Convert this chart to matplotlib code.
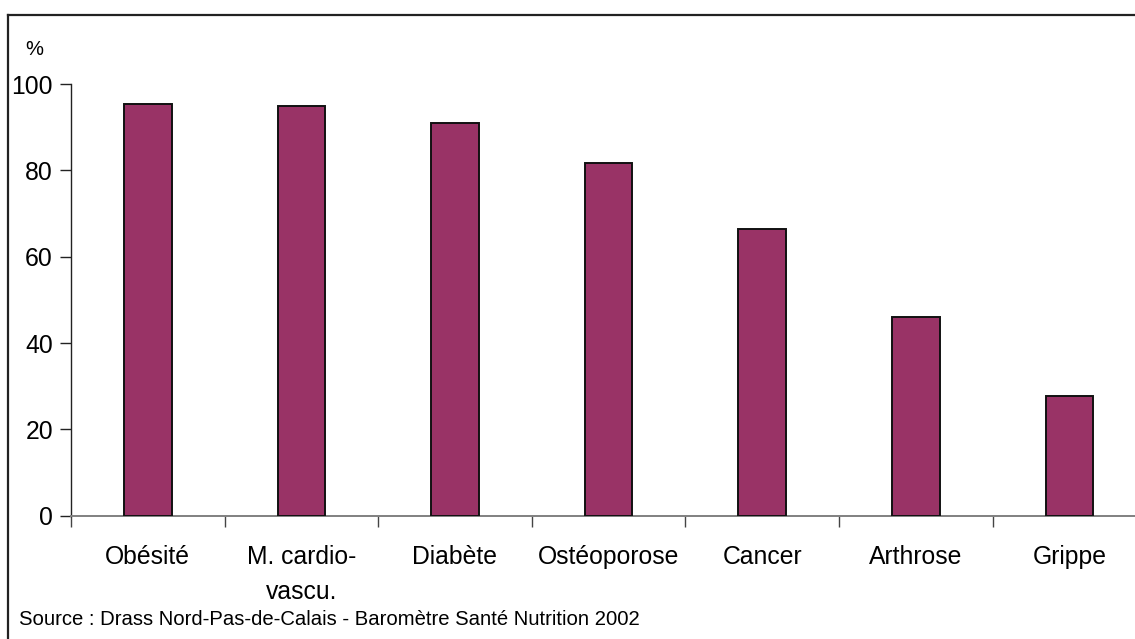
#!/usr/bin/env python

import matplotlib
matplotlib.use('Agg')
import matplotlib.pyplot as plt
import numpy as np
from matplotlib.lines import Line2D

categories = ['Obésité', 'M. cardio-\nvascu.', 'Diabète', 'Ostéoporose', 'Cancer', 'Arthrose', 'Grippe']
percentages = [95.4, 95.0, 90.9, 81.6, 66.3, 46.0, 27.7]
y_ticks = [0, 20, 40, 60, 80, 100]
source_text = 'Source : Drass Nord-Pas-de-Calais - Baromètre Santé Nutrition 2002'


def generate_bar_plot(plot_file, size=(11.35, 6.39), dpi=100):
    matplotlib.rc('font', **{'family': 'sans-serif', 'sans-serif': ['Liberation Sans', 'DejaVu Sans']})

    width_px = size[0] * dpi
    height_px = size[1] * dpi

    fig = plt.figure(figsize=size, dpi=dpi)

    # axes box in pixels: left edge, bottom (value 0) and top (value 100)
    left, right = 71, 71 + 7 * 153.6
    bottom, top = 515.7, 84
    ax = fig.add_axes([left / width_px, 1 - bottom / height_px,
                       (right - left) / width_px, (bottom - top) / height_px])

    bar_color = '#993366'
    x = np.arange(len(categories))
    ax.bar(x, percentages, width=0.31, color=bar_color, edgecolor='#111111', linewidth=1.4, zorder=3)

    ax.set_xlim(-0.5, len(categories) - 0.5)
    ax.set_ylim(0, 100)

    for spine_name in ['top', 'right']:
        ax.spines[spine_name].set_visible(False)
    ax.spines['left'].set_color('#222222')
    ax.spines['left'].set_linewidth(1.0)
    ax.spines['bottom'].set_color('#808080')
    ax.spines['bottom'].set_linewidth(1.4)

    ax.set_yticks(y_ticks)
    ax.set_yticklabels([str(v) for v in y_ticks], fontsize=17.8)
    ax.tick_params(axis='y', direction='out', length=8, width=1.0, color='#222222', pad=5)

    # separators between categories, labels at the centres
    separators = np.arange(len(categories) + 1) - 0.5
    ax.set_xticks(separators, labels=[''] * len(separators))
    ax.tick_params(axis='x', which='major', direction='out', length=8, width=1.0, color='#444444')
    ax.set_xticks(x, minor=True)
    ax.set_xticklabels(categories, minor=True, fontsize=17.8, linespacing=1.6)
    ax.tick_params(axis='x', which='minor', length=0, pad=21)

    fig.text(25 / width_px, 1 - 55 / height_px, '%', fontsize=14.5, va='baseline')
    fig.text(19 / width_px, 1 - 625 / height_px, source_text, fontsize=14.6, va='baseline')

    # outer frame (top and left edges, the rest falls outside the image)
    frame_x, frame_y = 8.3 / width_px, 1 - 15 / height_px
    fig.add_artist(Line2D([frame_x, 1.0], [frame_y, frame_y], transform=fig.transFigure,
                          color='#222222', linewidth=1.6))
    fig.add_artist(Line2D([frame_x, frame_x], [0.0, frame_y], transform=fig.transFigure,
                          color='#222222', linewidth=1.6))

    plt.savefig(plot_file, dpi=dpi)
    plt.close()


def main():
    generate_bar_plot('out.png')


if __name__ == '__main__':
    main()
